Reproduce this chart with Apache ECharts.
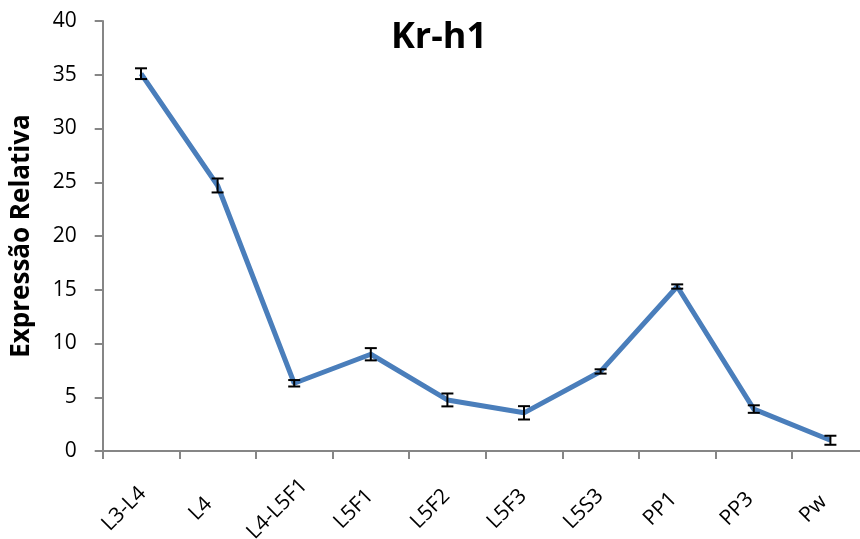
<!DOCTYPE html>
<html>
<head>
<meta charset="utf-8">
<script src="https://cdn.jsdelivr.net/npm/echarts@6/dist/echarts.min.js"></script>
<style>
  html, body { margin: 0; padding: 0; background: #fff; }
  #chart { width: 860px; height: 539px; }
</style>
</head>
<body>
<div id="chart"></div>
<script>
// Relative expression of Kr-h1 across developmental stages
const categories = ['L3-L4', 'L4', 'L4-L5F1', 'L5F1', 'L5F2', 'L5F3', 'L5S3', 'PP1', 'PP3', 'Pw'];
const values = [35.1, 24.7, 6.3, 9.0, 4.75, 3.55, 7.4, 15.3, 3.9, 1.0];
const errors = [0.5, 0.65, 0.3, 0.57, 0.6, 0.62, 0.2, 0.2, 0.35, 0.42];
const yTicks = [0, 5, 10, 15, 20, 25, 30, 35, 40];

const font = '"Open Sans", "Liberation Sans", sans-serif';
const chart = echarts.init(document.getElementById('chart'));

chart.setOption({
  animation: false,
  backgroundColor: '#ffffff',
  title: {
    text: 'Kr-h1',
    left: 434,
    top: 15,
    textAlign: 'center',
    textStyle: { fontFamily: font, fontSize: 36, fontWeight: 'bold', color: '#000' }
  },
  grid: {
    left: 102.7, top: 21, width: 766, height: 430,
    containLabel: false,
    outerBoundsMode: 'none'
  },
  xAxis: {
    type: 'category',
    data: categories,
    boundaryGap: true,
    axisLine: { lineStyle: { color: '#868686', width: 2 } },
    axisTick: { show: true, length: 8, lineStyle: { color: '#868686', width: 2 } },
    // centred diagonal labels, nudged back along their own direction
    axisLabel: {
      rotate: 45,
      align: 'center',
      verticalAlign: 'middle',
      padding: [0, 48, 0, 0],
      fontFamily: font,
      fontSize: 21,
      color: '#000',
      margin: 41,
      interval: 0
    }
  },
  yAxis: {
    type: 'value',
    min: yTicks[0],
    max: yTicks[yTicks.length - 1],
    interval: 5,
    name: 'Expressão Relativa',
    nameLocation: 'middle',
    nameRotate: 90,
    nameGap: 68,
    nameTextStyle: { fontFamily: font, fontSize: 26, fontWeight: 'bold', color: '#000' },
    splitLine: { show: false },
    axisLine: { show: true, lineStyle: { color: '#868686', width: 2 } },
    axisTick: { show: true, length: 8, lineStyle: { color: '#868686', width: 2 } },
    axisLabel: { fontFamily: font, fontSize: 21, color: '#000', margin: 26 }
  },
  series: [
    {
      type: 'line',
      data: values,
      symbol: 'none',
      lineStyle: { color: '#4a7ebb', width: 5 },
      z: 2
    },
    {
      type: 'custom',
      z: 3,
      data: values.map((v, i) => [i, v - errors[i], v + errors[i]]),
      renderItem: function (params, api) {
        const lo = api.coord([api.value(0), api.value(1)]);
        const hi = api.coord([api.value(0), api.value(2)]);
        const half = 6;
        const style = { stroke: '#000', lineWidth: 2 };
        return {
          type: 'group',
          children: [
            { type: 'line', shape: { x1: lo[0], y1: lo[1], x2: hi[0], y2: hi[1] }, style: style },
            { type: 'line', shape: { x1: lo[0] - half, y1: lo[1], x2: lo[0] + half, y2: lo[1] }, style: style },
            { type: 'line', shape: { x1: hi[0] - half, y1: hi[1], x2: hi[0] + half, y2: hi[1] }, style: style }
          ]
        };
      }
    }
  ]
});
</script>
</body>
</html>
